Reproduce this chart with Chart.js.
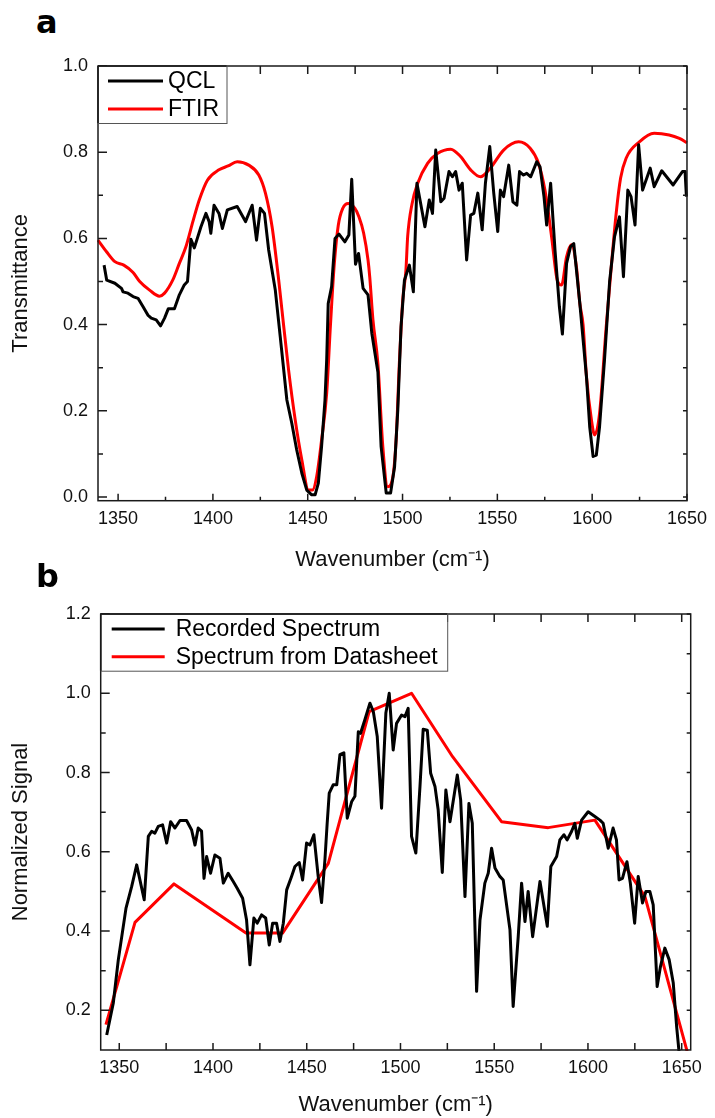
<!DOCTYPE html>
<html>
<head>
<meta charset="utf-8">
<script src="https://cdn.jsdelivr.net/npm/chart.js@4.4.1/dist/chart.umd.min.js"></script>
<style>
  html, body { margin: 0; padding: 0; background: #fff; }
  #page { position: relative; width: 715px; height: 1118px; overflow: hidden; }
  canvas { position: absolute; left: 0; }
  .panel { position: absolute; font: bold 32px "DejaVu Sans", sans-serif; line-height: 32px; color: #000; }
</style>
</head>
<body>
<div id="page">
  <div class="panel" style="left:36px; top:6px;">a</div>
  <canvas id="chartA" width="715" height="590" style="top:0"></canvas>
  <div class="panel" style="left:36px; top:560px;">b</div>
  <canvas id="chartB" width="715" height="528" style="top:590px"></canvas>
</div>
<script>
// panel a: QCL vs FTIR transmittance
var qclWavenumber = [1342.6, 1344.0, 1348.3, 1351.8, 1352.6, 1355.2, 1357.9, 1360.5, 1363.1, 1365.7, 1367.5, 1370.1, 1372.4, 1374.5, 1376.5, 1379.7, 1382.3, 1384.9, 1386.6, 1388.4, 1390.2, 1393.7, 1396.3, 1398.0, 1398.9, 1400.6, 1403.2, 1405.0, 1407.6, 1412.8, 1417.2, 1420.7, 1423.0, 1425.0, 1427.2, 1429.4, 1432.9, 1435.5, 1439.0, 1441.6, 1444.2, 1446.9, 1449.5, 1452.1, 1453.9, 1455.6, 1457.3, 1459.1, 1460.0, 1460.8, 1462.6, 1464.4, 1466.5, 1469.6, 1471.7, 1473.2, 1475.2, 1476.8, 1479.2, 1481.8, 1483.8, 1487.0, 1488.7, 1491.4, 1493.7, 1495.8, 1497.5, 1499.2, 1501.0, 1503.6, 1505.7, 1507.6, 1511.8, 1514.1, 1515.8, 1517.5, 1520.2, 1521.9, 1524.5, 1526.3, 1528.0, 1529.8, 1531.5, 1533.8, 1535.9, 1537.6, 1539.7, 1542.0, 1543.7, 1546.0, 1548.1, 1550.2, 1551.6, 1553.3, 1556.0, 1558.2, 1560.3, 1561.7, 1563.8, 1565.5, 1567.6, 1570.8, 1572.5, 1574.6, 1576.0, 1578.1, 1580.4, 1582.7, 1584.3, 1586.5, 1588.6, 1590.3, 1593.5, 1597.0, 1598.7, 1600.5, 1602.2, 1603.9, 1606.5, 1609.2, 1611.8, 1614.4, 1616.5, 1618.8, 1620.5, 1622.6, 1624.5, 1626.6, 1630.6, 1632.7, 1636.7, 1642.7, 1647.6, 1649.0, 1649.7];
var qclT = [0.538, 0.503, 0.496, 0.484, 0.476, 0.473, 0.465, 0.461, 0.442, 0.422, 0.415, 0.411, 0.397, 0.415, 0.437, 0.437, 0.469, 0.492, 0.500, 0.598, 0.578, 0.627, 0.658, 0.639, 0.612, 0.677, 0.658, 0.623, 0.666, 0.674, 0.639, 0.677, 0.596, 0.670, 0.658, 0.573, 0.480, 0.372, 0.225, 0.171, 0.109, 0.055, 0.016, 0.005, 0.005, 0.032, 0.117, 0.225, 0.318, 0.449, 0.488, 0.600, 0.610, 0.592, 0.608, 0.737, 0.540, 0.565, 0.484, 0.469, 0.380, 0.290, 0.117, 0.009, 0.009, 0.070, 0.202, 0.395, 0.503, 0.538, 0.476, 0.728, 0.627, 0.689, 0.658, 0.805, 0.685, 0.693, 0.755, 0.743, 0.755, 0.712, 0.728, 0.550, 0.654, 0.658, 0.705, 0.620, 0.728, 0.813, 0.705, 0.616, 0.712, 0.697, 0.770, 0.685, 0.677, 0.755, 0.747, 0.751, 0.743, 0.778, 0.766, 0.697, 0.631, 0.728, 0.573, 0.442, 0.378, 0.542, 0.581, 0.588, 0.449, 0.279, 0.163, 0.094, 0.097, 0.163, 0.318, 0.500, 0.604, 0.650, 0.511, 0.712, 0.697, 0.631, 0.817, 0.712, 0.763, 0.720, 0.757, 0.724, 0.755, 0.755, 0.697];

var ftirWavenumber = [1339.4, 1343.9, 1348.3, 1353.0, 1357.9, 1361.4, 1366.6, 1371.8, 1374.5, 1378.8, 1382.3, 1385.8, 1389.5, 1392.8, 1397.1, 1403.2, 1408.0, 1412.8, 1418.9, 1424.2, 1427.7, 1431.2, 1434.7, 1436.4, 1439.9, 1443.4, 1446.9, 1450.4, 1452.5, 1454.7, 1457.3, 1460.0, 1462.0, 1464.0, 1466.1, 1468.5, 1471.3, 1474.8, 1477.0, 1479.5, 1481.8, 1482.7, 1484.4, 1487.0, 1489.6, 1492.2, 1494.9, 1496.6, 1498.4, 1500.1, 1501.8, 1502.7, 1505.0, 1508.0, 1513.2, 1518.4, 1525.4, 1530.6, 1535.9, 1541.1, 1546.3, 1553.3, 1561.2, 1567.3, 1571.7, 1575.1, 1578.6, 1581.6, 1583.9, 1586.5, 1589.1, 1591.7, 1593.5, 1595.2, 1597.0, 1599.6, 1601.3, 1603.9, 1607.4, 1610.0, 1612.7, 1615.0, 1617.9, 1624.9, 1632.7, 1640.6, 1646.0, 1650.0];
var ftirT = [0.596, 0.569, 0.546, 0.538, 0.521, 0.500, 0.480, 0.466, 0.473, 0.503, 0.542, 0.581, 0.640, 0.689, 0.735, 0.759, 0.768, 0.778, 0.770, 0.747, 0.705, 0.627, 0.503, 0.434, 0.295, 0.179, 0.086, 0.016, 0.016, 0.047, 0.132, 0.241, 0.400, 0.540, 0.630, 0.670, 0.681, 0.670, 0.650, 0.612, 0.550, 0.511, 0.411, 0.310, 0.117, 0.024, 0.047, 0.132, 0.318, 0.457, 0.527, 0.604, 0.680, 0.728, 0.774, 0.797, 0.807, 0.790, 0.759, 0.743, 0.763, 0.805, 0.824, 0.809, 0.774, 0.712, 0.604, 0.503, 0.492, 0.557, 0.585, 0.534, 0.449, 0.400, 0.279, 0.179, 0.144, 0.194, 0.395, 0.530, 0.660, 0.740, 0.786, 0.824, 0.844, 0.840, 0.832, 0.822];

// panel b: recorded spectrum vs datasheet
var recWavenumber = [1343.3, 1346.8, 1349.5, 1353.6, 1356.6, 1359.3, 1363.3, 1365.5, 1367.3, 1369.0, 1370.8, 1373.1, 1375.3, 1377.4, 1379.7, 1382.4, 1385.9, 1388.6, 1390.4, 1392.1, 1393.9, 1395.2, 1396.6, 1398.7, 1401.0, 1403.7, 1405.5, 1408.1, 1410.8, 1412.9, 1415.8, 1417.9, 1419.7, 1421.8, 1423.6, 1425.9, 1428.1, 1430.0, 1431.8, 1433.9, 1435.7, 1437.5, 1439.3, 1441.9, 1443.7, 1446.0, 1447.8, 1449.9, 1451.7, 1453.8, 1456.1, 1457.9, 1459.7, 1460.9, 1462.0, 1464.1, 1466.0, 1467.7, 1469.8, 1471.6, 1474.0, 1475.7, 1477.5, 1478.7, 1481.0, 1483.7, 1485.5, 1487.6, 1489.9, 1492.2, 1494.0, 1496.1, 1497.9, 1500.6, 1502.4, 1504.1, 1505.9, 1508.2, 1510.4, 1512.1, 1514.3, 1516.1, 1518.4, 1520.1, 1522.3, 1524.2, 1526.4, 1530.3, 1532.1, 1534.4, 1536.5, 1538.3, 1540.6, 1542.4, 1545.0, 1546.8, 1548.6, 1550.4, 1553.0, 1554.8, 1558.4, 1560.1, 1562.8, 1564.6, 1566.4, 1568.1, 1570.5, 1574.4, 1578.3, 1580.2, 1583.3, 1585.0, 1587.2, 1588.9, 1591.3, 1593.0, 1594.3, 1596.6, 1600.1, 1603.7, 1606.4, 1608.1, 1610.8, 1613.4, 1615.2, 1616.6, 1618.4, 1620.8, 1622.6, 1624.9, 1626.8, 1629.1, 1630.9, 1633.0, 1634.8, 1636.9, 1638.7, 1641.0, 1643.3, 1645.5, 1647.3, 1649.5];
var recSignal = [0.138, 0.218, 0.328, 0.458, 0.512, 0.567, 0.479, 0.639, 0.652, 0.647, 0.664, 0.668, 0.622, 0.676, 0.660, 0.679, 0.679, 0.655, 0.617, 0.660, 0.652, 0.533, 0.588, 0.546, 0.592, 0.584, 0.521, 0.546, 0.525, 0.508, 0.483, 0.428, 0.315, 0.433, 0.420, 0.441, 0.433, 0.365, 0.420, 0.420, 0.374, 0.420, 0.504, 0.538, 0.563, 0.573, 0.529, 0.622, 0.617, 0.643, 0.538, 0.472, 0.580, 0.672, 0.748, 0.769, 0.769, 0.845, 0.850, 0.685, 0.727, 0.740, 0.903, 0.899, 0.933, 0.975, 0.954, 0.891, 0.710, 0.950, 1.000, 0.857, 0.924, 0.945, 0.941, 0.962, 0.639, 0.597, 0.765, 0.909, 0.907, 0.798, 0.765, 0.706, 0.548, 0.756, 0.676, 0.794, 0.731, 0.487, 0.722, 0.672, 0.248, 0.428, 0.521, 0.546, 0.609, 0.559, 0.538, 0.529, 0.403, 0.210, 0.386, 0.521, 0.424, 0.500, 0.386, 0.525, 0.412, 0.563, 0.588, 0.630, 0.643, 0.630, 0.652, 0.672, 0.634, 0.680, 0.701, 0.689, 0.680, 0.672, 0.609, 0.660, 0.630, 0.529, 0.533, 0.575, 0.521, 0.420, 0.538, 0.471, 0.500, 0.500, 0.466, 0.260, 0.311, 0.357, 0.328, 0.269, 0.159, 0.050];

var sheetWavenumber = [1342.9, 1358.4, 1379.2, 1417.6, 1437.1, 1461.5, 1483.3, 1505.9, 1527.8, 1553.9, 1578.8, 1603.7, 1630.4, 1655.0];
var sheetSignal = [0.164, 0.422, 0.519, 0.395, 0.395, 0.571, 0.954, 1.000, 0.840, 0.676, 0.661, 0.680, 0.487, 0.060];

var wavenumberTicks = [1350, 1400, 1450, 1500, 1550, 1600, 1650];
var transmittanceTicks = [0.0, 0.2, 0.4, 0.6, 0.8, 1.0];
var signalTicks = [0.2, 0.4, 0.6, 0.8, 1.0, 1.2];

var FONT = '"Liberation Sans", Arial, sans-serif';

function pairs(xs, ys) {
  return xs.map(function (x, i) { return {x: x, y: ys[i]}; });
}

function midpoints(list) {
  var out = [];
  for (var i = 0; i < list.length - 1; i++) out.push((list[i] + list[i + 1]) / 2);
  return out;
}

// frame, inward ticks and legend box
var decorations = {
  id: 'decorations',
  afterDatasetsDraw: function (chart, args, opts) {
    var ctx = chart.ctx, a = chart.chartArea;
    var xs = chart.scales.x, ys = chart.scales.y;
    ctx.save();
    ctx.strokeStyle = '#1a1a1a';
    ctx.lineWidth = 1.5;
    ctx.beginPath();
    var xMinor = midpoints(opts.xTicks);
    opts.xTicks.forEach(function (v) {
      var px = xs.getPixelForValue(v);
      ctx.moveTo(px, a.bottom); ctx.lineTo(px, a.bottom - 7);
      ctx.moveTo(px, a.top); ctx.lineTo(px, a.top + 8);
    });
    xMinor.forEach(function (v) {
      var px = xs.getPixelForValue(v);
      ctx.moveTo(px, a.bottom); ctx.lineTo(px, a.bottom - opts.bottomMinor);
      ctx.moveTo(px, a.top); ctx.lineTo(px, a.top + 8);
    });
    var yMinor = midpoints(opts.yTicks);
    opts.yTicks.forEach(function (v) {
      var py = ys.getPixelForValue(v);
      ctx.moveTo(a.left, py); ctx.lineTo(a.left + 9, py);
      ctx.moveTo(a.right, py); ctx.lineTo(a.right - 4, py);
    });
    yMinor.forEach(function (v) {
      var py = ys.getPixelForValue(v);
      ctx.moveTo(a.left, py); ctx.lineTo(a.left + 5, py);
      ctx.moveTo(a.right, py); ctx.lineTo(a.right - 4, py);
    });
    ctx.stroke();
    ctx.strokeRect(a.left, a.top, a.right - a.left, a.bottom - a.top);

    // legend
    var L = opts.legend;
    ctx.fillStyle = '#fff';
    ctx.fillRect(a.left, a.top, L.width, L.height);
    ctx.strokeStyle = '#555';
    ctx.lineWidth = 1;
    ctx.strokeRect(a.left + 0.5, a.top + 0.5, L.width, L.height);
    ctx.strokeStyle = '#1a1a1a';
    ctx.lineWidth = 1.5;
    ctx.beginPath();
    ctx.moveTo(a.left, a.top); ctx.lineTo(a.left + L.width, a.top);
    ctx.moveTo(a.left, a.top); ctx.lineTo(a.left, a.top + L.height);
    ctx.stroke();
    ctx.font = L.fontSize + 'px ' + FONT;
    ctx.textBaseline = 'middle';
    ctx.textAlign = 'left';
    chart.data.datasets.forEach(function (ds, i) {
      var y = a.top + L.rows[i];
      ctx.strokeStyle = ds.borderColor;
      ctx.lineWidth = 3;
      ctx.beginPath();
      ctx.moveTo(a.left + L.lineFrom, y);
      ctx.lineTo(a.left + L.lineTo, y);
      ctx.stroke();
      ctx.fillStyle = '#000';
      ctx.fillText(ds.label, a.left + L.textX, y + 1);
    });
    ctx.restore();
  }
};

function makeChart(id, cfg) {
  return new Chart(document.getElementById(id), {
    type: 'line',
    data: {
      datasets: cfg.series.map(function (s) {
        return {
          label: s.label,
          data: pairs(s.x, s.y),
          borderColor: s.color,
          borderWidth: 3,
          pointRadius: 0,
          tension: 0,
          cubicInterpolationMode: s.smooth ? 'monotone' : 'default',
          borderJoinStyle: 'round',
          clip: 1
        };
      })
    },
    options: {
      responsive: false,
      animation: false,
      layout: {padding: cfg.padding},
      plugins: {
        legend: {display: false},
        tooltip: {enabled: false},
        decorations: {
          xTicks: wavenumberTicks,
          yTicks: cfg.yTicks,
          bottomMinor: cfg.bottomMinor,
          legend: cfg.legend
        }
      },
      scales: {
        x: {
          type: 'linear',
          min: cfg.xMin,
          max: cfg.xMax,
          afterBuildTicks: function (s) { s.ticks = wavenumberTicks.map(function (v) { return {value: v}; }); },
          afterFit: function (s) { s.height = cfg.xAxisHeight; },
          grid: {display: false, drawTicks: false},
          border: {display: false},
          ticks: {
            autoSkip: false, maxRotation: 0, padding: cfg.xTickPad, color: '#111',
            font: {family: FONT, size: 18},
            callback: function (v) { return String(v); }
          },
          title: {
            display: true, text: 'Wavenumber (cm\u207B\u00B9)', color: '#111',
            font: {family: FONT, size: 22}, padding: {top: 0, bottom: cfg.xTitlePad}
          }
        },
        y: {
          type: 'linear',
          min: cfg.yMin,
          max: cfg.yMax,
          afterBuildTicks: function (s) { s.ticks = cfg.yTicks.map(function (v) { return {value: v}; }); },
          afterFit: function (s) { s.width = cfg.yAxisWidth; },
          grid: {display: false, drawTicks: false},
          border: {display: false},
          ticks: {
            autoSkip: false, padding: 10, color: '#111',
            font: {family: FONT, size: 18},
            callback: function (v) { return v.toFixed(1); }
          },
          title: {
            display: true, text: cfg.yTitle, color: '#111',
            font: {family: FONT, size: 22}, padding: {top: 8, bottom: 0}
          }
        }
      }
    },
    plugins: [decorations]
  });
}

makeChart('chartA', {
  series: [
    {label: 'QCL', x: qclWavenumber, y: qclT, color: '#000000'},
    {label: 'FTIR', x: ftirWavenumber, y: ftirT, color: '#ff0000', smooth: true}
  ],
  xMin: 1339.4, xMax: 1650, yMin: -0.0086, yMax: 1.0,
  yTicks: transmittanceTicks,
  yTitle: 'Transmittance',
  padding: {left: 0, right: 24.3, top: 66, bottom: 0},
  yAxisWidth: 98, xAxisHeight: 89.3, xTickPad: 8, xTitlePad: 17,
  bottomMinor: 4,
  legend: {width: 128.5, height: 57, rows: [15, 43], lineFrom: 10, lineTo: 65, textX: 70, fontSize: 23}
});

makeChart('chartB', {
  series: [
    {label: 'Recorded Spectrum', x: recWavenumber, y: recSignal, color: '#000000'},
    {label: 'Spectrum from Datasheet', x: sheetWavenumber, y: sheetSignal, color: '#ff0000'}
  ],
  xMin: 1340.1, xMax: 1654.8, yMin: 0.1, yMax: 1.2,
  yTicks: signalTicks,
  yTitle: 'Normalized Signal',
  padding: {left: 0, right: 24.3, top: 24, bottom: 0},
  yAxisWidth: 100.7, xAxisHeight: 68, xTickPad: 7, xTitlePad: 0,
  bottomMinor: 7,
  legend: {width: 346.5, height: 56.7, rows: [15, 42.7], lineFrom: 11, lineTo: 64, textX: 75, fontSize: 23}
});
</script>
</body>
</html>
